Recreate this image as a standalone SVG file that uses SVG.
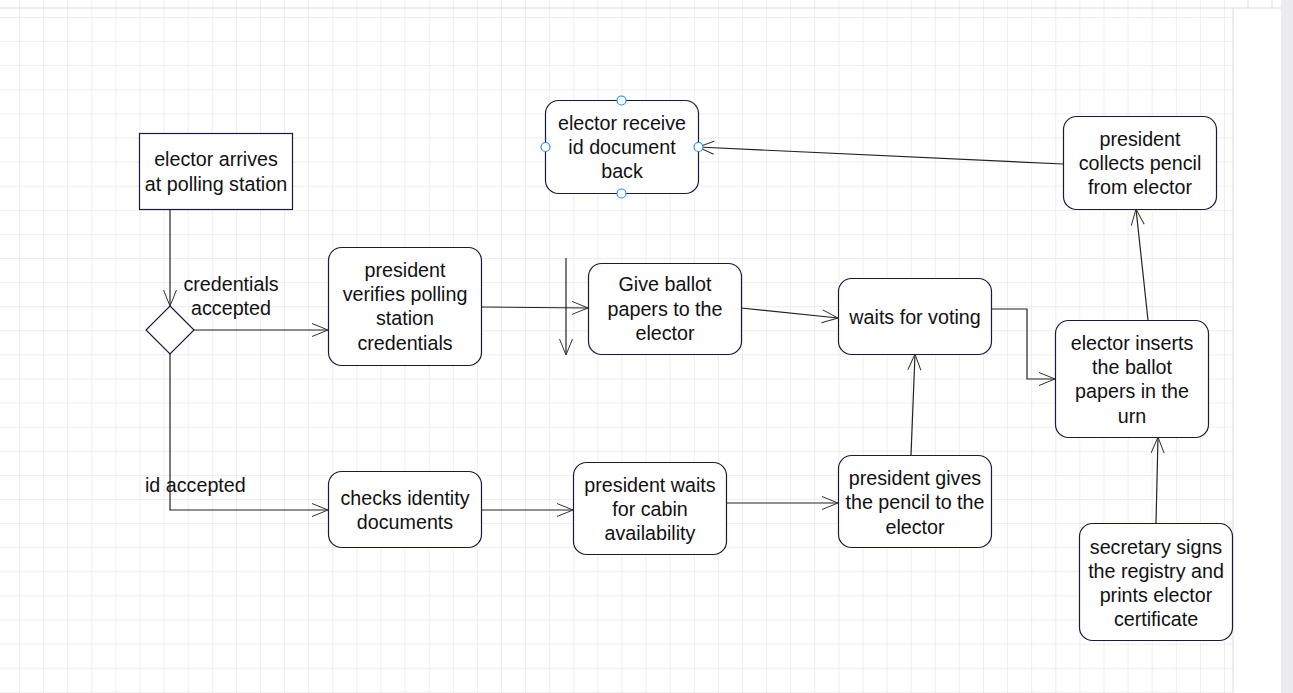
<svg xmlns="http://www.w3.org/2000/svg" width="1293" height="693" viewBox="0 0 1293 693">
<defs>
<pattern id="grid" x="19" y="17" width="24.1" height="24.1" patternUnits="userSpaceOnUse">
<path d="M0,0 H24.1 M0,0 V24.1" fill="none" stroke="#dcdcdc" stroke-width="1"/>
</pattern>
<marker id="arr" markerUnits="userSpaceOnUse" markerWidth="20" markerHeight="16" viewBox="-17 -8 20 16" refX="0" refY="0" orient="auto">
<path d="M-16,-6.5 L0,0 L-16,6.5" fill="none" stroke="#333" stroke-width="1"/>
</marker>
</defs>
<style>
.node{fill:#fff;stroke:#1a1a40;stroke-width:1.2}
.t{font-family:"Liberation Sans",Arial,sans-serif;font-size:19.7px;fill:#111;text-anchor:middle}
.lbl{font-family:"Liberation Sans",Arial,sans-serif;font-size:19.7px;fill:#111}
.c{fill:none;stroke:#222;stroke-width:1.2;marker-end:url(#arr)}
.h{fill:#fff;stroke:#1e90ff;stroke-width:1.2}
</style>
<rect x="0" y="0" width="1293" height="693" fill="#fff"/>
<rect x="0" y="0" width="1233" height="693" fill="url(#grid)"/>
<rect x="1233" y="8" width="48" height="685" fill="#fff"/>
<line x1="1233" y1="8" x2="1233" y2="693" stroke="#dcdcdc"/>
<line x1="0" y1="8" x2="1281" y2="8" stroke="#dcdcdc"/>
<path d="M1248,0 V8 M1272,0 V8" stroke="#dcdcdc"/>
<rect x="1281" y="0" width="12" height="693" fill="#ebebf0"/>

<g id="connectors">
<path class="c" d="M170,209 V306"/>
<path class="c" d="M194,330 H328"/>
<path class="c" d="M170,354 V510 H328"/>
<path class="c" d="M481,307 L588,308"/>
<path class="c" d="M566,258 V355"/>
<path class="c" d="M741,308 L838,318"/>
<path class="c" d="M991,309 H1027 V379 H1055"/>
<path class="c" d="M481,510 H573"/>
<path class="c" d="M726,503 H838"/>
<path class="c" d="M911,455 L915,354"/>
<path class="c" d="M1156,523 L1158,437"/>
<path class="c" d="M1148,320 L1136,209"/>
<path class="c" d="M1063,164 L698,147"/>
</g>

<g id="labels">
<text class="t" x="231" y="291">credentials</text>
<text class="t" x="231" y="315">accepted</text>
<text class="lbl" x="145" y="492">id accepted</text>
</g>

<g id="n1">
<rect class="node" x="139.5" y="133.5" width="153" height="76"/>
<text class="t" x="216" y="166">elector arrives</text>
<text class="t" x="216" y="191">at polling station</text>
</g>
<g id="decision">
<path class="node" d="M170,306 L194,330 L170,354 L146,330 Z"/>
</g>
<g id="n2">
<rect class="node" x="328.5" y="247.5" width="153" height="118" rx="13"/>
<text class="t" x="405" y="277">president</text>
<text class="t" x="405" y="301">verifies polling</text>
<text class="t" x="405" y="325">station</text>
<text class="t" x="405" y="350">credentials</text>
</g>
<g id="n3">
<rect class="node" x="588.5" y="263.5" width="153" height="91" rx="13"/>
<text class="t" x="665" y="291">Give ballot</text>
<text class="t" x="665" y="316">papers to the</text>
<text class="t" x="665" y="340">elector</text>
</g>
<g id="n4">
<rect class="node" x="838.5" y="278.5" width="153" height="76" rx="13"/>
<text class="t" x="915" y="324">waits for voting</text>
</g>
<g id="n5">
<rect class="node" x="1055.5" y="320.5" width="153" height="117" rx="13"/>
<text class="t" x="1132" y="350">elector inserts</text>
<text class="t" x="1132" y="374">the ballot</text>
<text class="t" x="1132" y="398">papers in the</text>
<text class="t" x="1132" y="423">urn</text>
</g>
<g id="n6">
<rect class="node" x="1063.5" y="116.5" width="153" height="93" rx="13"/>
<text class="t" x="1140" y="146">president</text>
<text class="t" x="1140" y="170">collects pencil</text>
<text class="t" x="1140" y="194">from elector</text>
</g>
<g id="n7">
<rect class="node" x="545.5" y="100.5" width="153" height="93" rx="13"/>
<text class="t" x="622" y="130">elector receive</text>
<text class="t" x="622" y="154">id document</text>
<text class="t" x="622" y="178">back</text>
<circle class="h" cx="621.5" cy="100.5" r="4.5"/>
<circle class="h" cx="621.5" cy="193.5" r="4.5"/>
<circle class="h" cx="545.5" cy="147" r="4.5"/>
<circle class="h" cx="698.5" cy="147" r="4.5"/>
</g>
<g id="n8">
<rect class="node" x="328.5" y="471.5" width="153" height="76" rx="13"/>
<text class="t" x="405" y="505">checks identity</text>
<text class="t" x="405" y="529">documents</text>
</g>
<g id="n9">
<rect class="node" x="573.5" y="462.5" width="153" height="92" rx="13"/>
<text class="t" x="650" y="492">president waits</text>
<text class="t" x="650" y="516">for cabin</text>
<text class="t" x="650" y="540">availability</text>
</g>
<g id="n10">
<rect class="node" x="838.5" y="455.5" width="153" height="92" rx="13"/>
<text class="t" x="915" y="485">president gives</text>
<text class="t" x="915" y="509">the pencil to the</text>
<text class="t" x="915" y="534">elector</text>
</g>
<g id="n11">
<rect class="node" x="1079.5" y="523.5" width="153" height="117" rx="13"/>
<text class="t" x="1156" y="554">secretary signs</text>
<text class="t" x="1156" y="578">the registry and</text>
<text class="t" x="1156" y="602">prints elector</text>
<text class="t" x="1156" y="626">certificate</text>
</g>
</svg>
